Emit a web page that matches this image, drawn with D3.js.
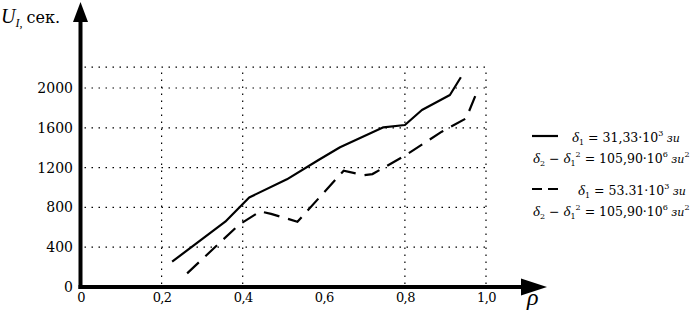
<!DOCTYPE html>
<html><head><meta charset="utf-8">
<script src="https://cdn.jsdelivr.net/npm/d3@7"></script>
<style>
html,body{margin:0;padding:0;background:#fff;}
svg{display:block;}
</style></head>
<body>
<svg id="c" width="696" height="317"></svg>
<script>
// ---- data ----
const xTicks = [0, 0.2, 0.4, 0.6, 0.8, 1.0];
const xTickLabels = ["0", "0,2", "0,4", "0,6", "0,8", "1,0"];
const yTicks = [0, 400, 800, 1200, 1600, 2000];
const yTickLabels = ["0", "400", "800", "1200", "1600", "2000"];
const xGrid = [0.2, 0.4, 0.8, 1.0];
const yGrid = [400, 800, 1200, 1600, 2000, 2210];

const solidRho = [0.226, 0.357, 0.416, 0.509, 0.587, 0.640, 0.747, 0.800, 0.842, 0.911, 0.938];
const solidU   = [255, 656, 900, 1082, 1276, 1404, 1605, 1628, 1779, 1930, 2108];

const dashRho = [0.263, 0.390, 0.443, 0.470, 0.535, 0.649, 0.680, 0.700, 0.720, 0.800, 0.891, 0.951, 0.977];
const dashU   = [137, 623, 760, 735, 656, 1169, 1140, 1125, 1135, 1320, 1561, 1695, 1953];

const SERIF = '"DejaVu Serif", serif';
const LATIN = '"Liberation Serif", "Times New Roman", serif';

// ---- chart ----
const svg = d3.select("#c").style("font-family", SERIF);
const x = d3.scaleLinear().domain([0, 1]).range([80.5, 486]);
const y = d3.scaleLinear().domain([0, 2000]).range([287, 88]);
const yTop = y(2210);

// grid
const g = svg.append("g").attr("stroke", "#000").attr("stroke-width", 1.2)
  .attr("stroke-dasharray", "1.5,5.5");
g.selectAll(".hg").data(yGrid).enter().append("line")
  .attr("x1", x(0) + 4).attr("x2", x(1.0))
  .attr("y1", d => y(d)).attr("y2", d => y(d));
g.selectAll(".vg").data(xGrid).enter().append("line")
  .attr("x1", d => x(d)).attr("x2", d => x(d))
  .attr("y1", y(0) - 3).attr("y2", yTop);

// series
const line = d3.line().x(d => x(d[0])).y(d => y(d[1]));
const solidData = solidRho.map((r, i) => [r, solidU[i]]);
const dashData = dashRho.map((r, i) => [r, dashU[i]]);
svg.append("path").attr("d", line(solidData)).attr("fill", "none")
  .attr("stroke", "#000").attr("stroke-width", 2.2).attr("stroke-linejoin", "round");
svg.append("path").attr("d", line(dashData)).attr("fill", "none")
  .attr("stroke", "#000").attr("stroke-width", 2.2).attr("stroke-dasharray", "16,9");

// axes
svg.append("line").attr("x1", x(0)).attr("x2", x(0)).attr("y1", y(0) + 2).attr("y2", 18)
  .attr("stroke", "#000").attr("stroke-width", 4);
svg.append("path").attr("d", `M${x(0)},2 L${x(0) - 7.5},22 L${x(0) + 7.5},22 Z`).attr("fill", "#000");
svg.append("line").attr("x1", x(0) - 2).attr("x2", 530).attr("y1", y(0)).attr("y2", y(0))
  .attr("stroke", "#000").attr("stroke-width", 4);
svg.append("path").attr("d", `M547,${y(0)} L521,${y(0) - 8.5} L521,${y(0) + 8.5} Z`).attr("fill", "#000");

// tick labels
svg.selectAll(".xt").data(xTicks).enter().append("text")
  .attr("x", d => x(d) + 0.5).attr("y", 302).attr("text-anchor", "middle")
  .attr("font-size", 13).attr("letter-spacing", -0.6).text((d, i) => xTickLabels[i]);
svg.selectAll(".yt").data(yTicks).enter().append("text")
  .attr("x", 73).attr("y", d => y(d) + 5).attr("text-anchor", "end")
  .attr("font-size", 14).text((d, i) => yTickLabels[i]);

// axis titles
const yt = svg.append("text").attr("x", 1).attr("y", 23);
yt.append("tspan").attr("font-family", LATIN).attr("font-style", "italic").attr("font-size", 20).text("U");
yt.append("tspan").attr("font-family", LATIN).attr("font-style", "italic").attr("font-size", 12).attr("dy", 4).text("I,");
yt.append("tspan").attr("font-size", 16).attr("dy", -4).attr("dx", 4).text("сек.");
svg.append("text").attr("x", 527).attr("y", 305).attr("font-family", LATIN).attr("font-style", "italic")
  .attr("font-size", 24).text("ρ");

// legend
svg.append("line").attr("x1", 532).attr("x2", 558).attr("y1", 136).attr("y2", 136)
  .attr("stroke", "#000").attr("stroke-width", 2.2);
svg.append("line").attr("x1", 532).attr("x2", 558).attr("y1", 189).attr("y2", 189)
  .attr("stroke", "#000").attr("stroke-width", 2.2).attr("stroke-dasharray", "10,6");

function greek(t, s) {
  t.append("tspan").attr("font-family", LATIN).attr("font-style", "italic").attr("font-size", 15).text(s);
}
function deltaOne(t, num) {
  greek(t, "δ");
  t.append("tspan").attr("font-size", 8).attr("dy", 3).text("1");
  t.append("tspan").attr("dy", -3).text(" = " + num + "·10");
  t.append("tspan").attr("font-size", 8).attr("dy", -6).text("3");
  t.append("tspan").attr("dy", 6).attr("font-style", "italic").attr("font-size", 11).text(" зи");
}
function deltaTwo(t) {
  greek(t, "δ");
  t.append("tspan").attr("font-size", 8).attr("dy", 3).text("2");
  t.append("tspan").attr("dy", -3).text(" − ");
  greek(t, "δ");
  t.append("tspan").attr("font-size", 8).attr("dy", 3).text("1");
  t.append("tspan").attr("font-size", 8).attr("dy", -9).text("2");
  t.append("tspan").attr("dy", 6).text(" = 105,90·10");
  t.append("tspan").attr("font-size", 8).attr("dy", -6).text("6");
  t.append("tspan").attr("dy", 6).attr("font-style", "italic").attr("font-size", 11).text(" зи");
  t.append("tspan").attr("font-size", 8).attr("dy", -6).text("2");
}
deltaOne(svg.append("text").attr("x", 572).attr("y", 142).attr("font-size", 12.5), "31,33");
deltaTwo(svg.append("text").attr("x", 533).attr("y", 163).attr("font-size", 12.5));
deltaOne(svg.append("text").attr("x", 578).attr("y", 195).attr("font-size", 12.5), "53.31");
deltaTwo(svg.append("text").attr("x", 533).attr("y", 216).attr("font-size", 12.5));
</script>
</body></html>
